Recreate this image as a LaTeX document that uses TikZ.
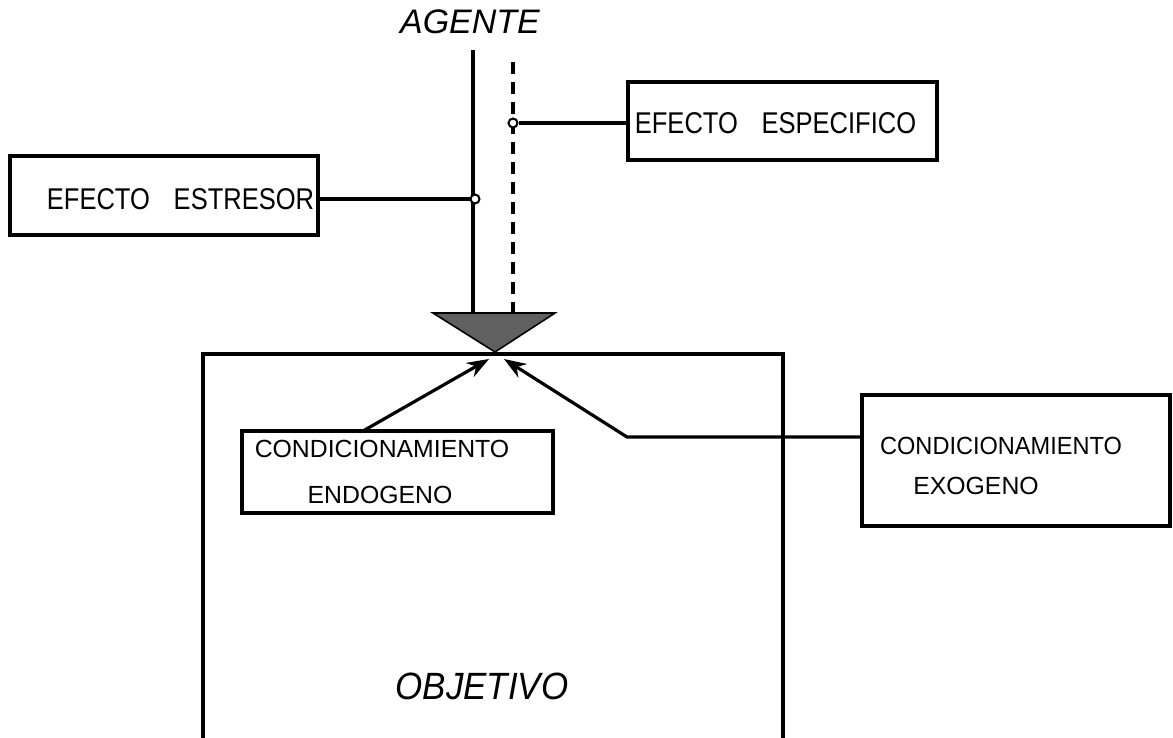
\documentclass[tikz,border=0pt]{standalone}
\usepackage{fontspec}
\setmainfont{Liberation Sans}
\usetikzlibrary{arrows.meta}
\begin{document}
\begin{tikzpicture}[x=0.5pt,y=-0.5pt,
  boxst/.style={draw,line width=1.6pt,inner sep=0pt},
  lin/.style={line width=1.6pt},
  dsh/.style={line width=1.6pt,dash pattern=on 6pt off 4pt},
  arr/.style={line width=1.6pt,-{Stealth[length=11pt,width=8pt]}},
  joint/.style={circle,draw,fill=white,line width=1pt,inner sep=0pt,minimum size=4.5pt},
  lbl/.style={font=\fontsize{15}{17}\selectfont,inner sep=0pt,xscale=0.85},
  lbls/.style={font=\fontsize{12.4}{23}\selectfont,inner sep=0pt}]
\useasboundingbox (0,0) rectangle (1173,738);
% Objetivo (open bottom box)
\coordinate (oTL) at (203,354);
\coordinate (oTR) at (783,354);
\coordinate (oBL) at (203,738);
\coordinate (oBR) at (783,738);
\draw[lin] (oBL) -- (oTL) -- (oTR) -- (oBR);
\node[font=\fontsize{19}{21}\selectfont\itshape,inner sep=0pt,xscale=0.92] (obj) at (482,686) {OBJETIVO};
% Agente
\node[font=\fontsize{17}{19}\selectfont\itshape,inner sep=0pt] (agente) at (470,22) {AGENTE};
\coordinate (sTop) at (473,50);
\coordinate (dTop) at (513,62);
% triangle
\coordinate (tL) at (433,313);
\coordinate (tR) at (555,313);
\coordinate (tB) at (495,352);
\draw[line width=0.8pt,fill=gray!75!black] (tL) -- (tR) -- (tB) -- cycle;
\coordinate (sBot) at (473,313);
\coordinate (dBot) at (513,313);
\draw[lin] (sTop) -- (sBot);
\draw[dsh] (dTop) -- (dBot);
% joints
\node[joint] (j1) at (475,199) {};
\node[joint] (j2) at (513,123) {};
% boxes
\node[boxst,minimum width=154pt,minimum height=39.5pt] (estresor) at (164,195.5) {};
\node[lbl] (estresorT) at (180.5,199) {EFECTO\hspace{14pt}ESTRESOR};
\node[boxst,minimum width=154.5pt,minimum height=39pt] (especifico) at (782.5,121) {};
\node[lbl] (especificoT) at (775.5,123) {EFECTO\hspace{14pt}ESPECIFICO};
\node[boxst,minimum width=155.5pt,minimum height=41pt] (endo) at (397.5,472) {};
\node[lbls] (endoT1) at (382,449) {CONDICIONAMIENTO};
\node[lbls] (endoT2) at (380,495) {ENDOGENO};
\node[boxst,minimum width=154pt,minimum height=65.5pt] (exo) at (1016,460.5) {};
\node[lbls,xscale=0.95] (exoT1) at (1001,446) {CONDICIONAMIENTO};
\node[lbls] (exoT2) at (976,486) {EXOGENO};
% connectors
\draw[lin] (estresor.east |- j1) -- (j1.west);
\draw[lin] (j2.east) -- (especifico.west |- j2);
\coordinate (tipL) at (489,359);
\coordinate (tipR) at (504,359);
\coordinate (bend) at (627,437);
\draw[arr] (363,431) -- (tipL);
\draw[arr] (exo.west |- bend) -- (bend) -- (tipR);
\end{tikzpicture}
\end{document}
